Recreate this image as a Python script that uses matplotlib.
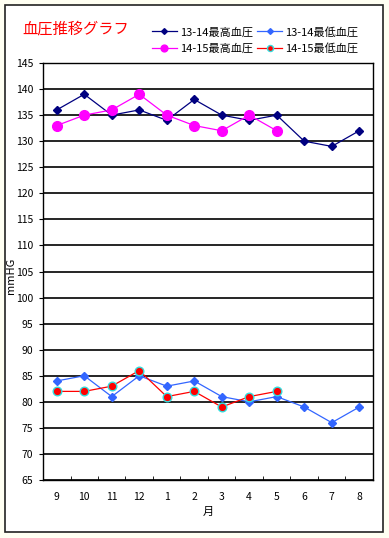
import matplotlib
matplotlib.use("Agg")
import matplotlib.pyplot as plt
from matplotlib.patches import Rectangle

plt.rcParams["font.family"] = ["Noto Sans CJK JP", "DejaVu Sans"]

months = ["9", "10", "11", "12", "1", "2", "3", "4", "5", "6", "7", "8"]
high_1314 = [136, 139, 135, 136, 134, 138, 135, 134, 135, 130, 129, 132]
low_1314 = [84, 85, 81, 85, 83, 84, 81, 80, 81, 79, 76, 79]
high_1415 = [133, 135, 136, 139, 135, 133, 132, 135, 132]
low_1415 = [82, 82, 83, 86, 81, 82, 79, 81, 82]

W, H = 389, 538
fig = plt.figure(figsize=(W / 100, H / 100), dpi=100)
fig.patch.set_facecolor("#FFFFF2")

# outer chart frame, kept behind the axes
fig.patches.append(Rectangle((5 / W, 1 - 532 / H), 378 / W, 527 / H,
                             transform=fig.transFigure, facecolor="white",
                             edgecolor="#222222", linewidth=1.2, zorder=-1))

ax = fig.add_axes([43 / W, 1 - 480 / H, 330 / W, 417 / H])
ax.set_facecolor("white")
x = list(range(len(months)))

l1, = ax.plot(x, high_1314, color="#000080", lw=0.9, marker="D", ms=4.2,
              label="13-14最高血圧", zorder=3)
l2, = ax.plot(x, low_1314, color="#3366FF", lw=0.9, marker="D", ms=4.2,
              label="13-14最低血圧", zorder=3)
l3, = ax.plot(x[:len(high_1415)], high_1415, color="#FF00FF", lw=0.9,
              marker="o", ms=7, label="14-15最高血圧", zorder=4)
l4, = ax.plot(x[:len(low_1415)], low_1415, color="#FF0000", lw=0.9,
              marker="o", ms=6.2, mec="#33DDDD", mew=1.0,
              label="14-15最低血圧", zorder=4)

ax.set_xlim(-0.5, len(months) - 0.5)
ax.set_ylim(65, 145)
ax.set_yticks(range(65, 146, 5))
ax.grid(axis="y", color="black", lw=1.2)
ax.set_axisbelow(True)
ax.set_xticks(x)
ax.set_xticklabels(months)
ax.set_xticks([i - 0.5 for i in range(len(months) + 1)], minor=True)
ax.tick_params(axis="x", which="major", length=0, pad=9, labelsize=7.5)
ax.tick_params(axis="x", which="minor", length=3, direction="in")
ax.tick_params(axis="y", length=3, direction="out", labelsize=7.5, pad=4)
for s in ax.spines.values():
    s.set_color("black")
    s.set_linewidth(1.0)

ax.set_ylabel("mmHG", fontsize=8)
ax.yaxis.set_label_coords(-27 / 330, 0.489)
ax.set_xlabel("月", fontsize=8, labelpad=3)

fig.text(22 / W, 1 - 29 / H, "血圧推移グラフ", color="red", fontsize=11,
         va="center", ha="left")

# column-wise fill: first column = 最高, second column = 最低
fig.legend([l1, l3, l2, l4], [l.get_label() for l in (l1, l3, l2, l4)],
           loc="upper left", bbox_to_anchor=(146 / W, 1 - 21 / H), ncol=2,
           frameon=False, fontsize=8, handlelength=2.3, columnspacing=0.35,
           handletextpad=0.25, labelspacing=0.55, borderpad=0,
           markerscale=0.7)

fig.savefig("out.png", dpi=100, facecolor=fig.get_facecolor())
